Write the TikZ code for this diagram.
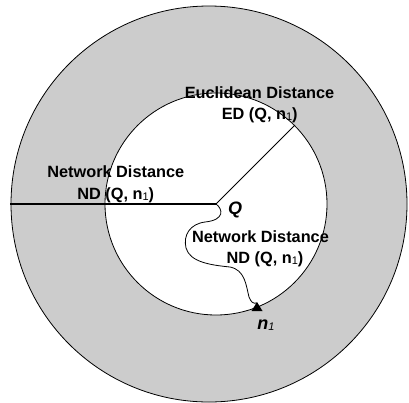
\documentclass[tikz,border=0pt]{standalone}
\usepackage{fontspec}
\setmainfont{Liberation Sans}
\newcommand{\nsub}{{\mdseries\fontsize{11}{11}\selectfont\raisebox{-1pt}{1}}}
\tikzset{
  lbl/.style={anchor=base, inner sep=0pt, font=\bfseries\fontsize{16.3}{16.3}\selectfont},
  big/.style={anchor=base, inner sep=0pt, font=\bfseries\itshape\fontsize{18}{18}\selectfont},
  ring/.style={draw=black, line width=0.8pt}
}
\begin{document}
\begin{tikzpicture}[x=1pt,y=-1pt]
\useasboundingbox (0,0) rectangle (409,402);
\coordinate (C) at (209,204);
\coordinate (Q) at (216,204);
\coordinate (L) at (10,204);
\coordinate (E) at (294.5,125.5);
\coordinate (N) at (257,303);
\fill[black!20] (C) circle (198);
\draw[ring] (C) circle (198);
\fill[white] (Q) circle (111);
\draw[ring] (Q) circle (111);
\draw[line width=1.2pt] (L) -- (Q);
\draw[line width=0.8pt] (Q) -- (E);
\draw[line width=0.8pt] (Q) .. controls (223,209) and (225,220) .. (205,222)
  .. controls (190,224) and (183,235) .. (186,248)
  .. controls (190,262) and (210,265) .. (230,267)
  .. controls (245,270) and (246,285) .. (249,297)
  .. controls (251,302) and (253,304) .. (N);
\fill[black] (257,302) -- (262.5,311) -- (251.5,311) -- cycle;
\node[lbl] (eu1) at (259.5,98.5) {Euclidean Distance};
\node[lbl] (eu2) at (259.7,119.5) {ED (Q, n\nsub)};
\node[lbl] (nl1) at (115.8,177) {Network Distance};
\node[lbl] (nl2) at (115.8,199) {ND (Q, n\nsub)};
\node[lbl] (nr1) at (260.5,242.5) {Network Distance};
\node[lbl] (nr2) at (265,263.5) {ND (Q, n\nsub)};
\node[big] (q) at (235,214) {Q};
\node[big] (n1) at (266,329) {n\nsub};
\end{tikzpicture}
\end{document}
